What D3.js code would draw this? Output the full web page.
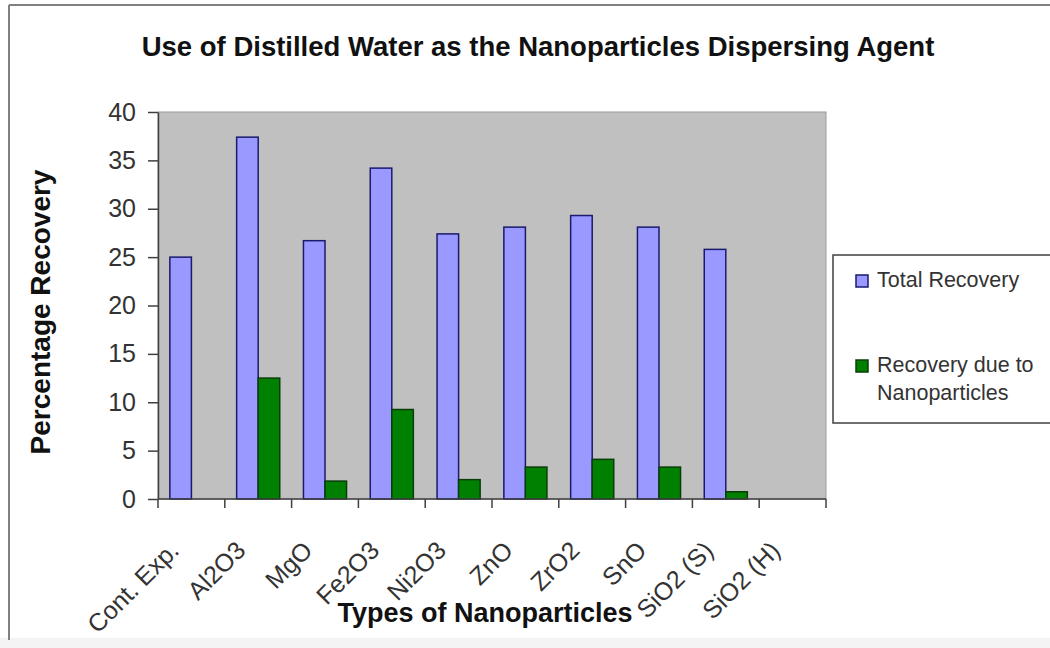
<!DOCTYPE html>
<html>
<head>
<meta charset="utf-8">
<script src="https://cdn.jsdelivr.net/npm/d3@7"></script>
<style>
  body { margin: 0; background: #fff; }
  svg text { font-family: Arial, "Liberation Sans", sans-serif; }
</style>
</head>
<body>
<div id="chart"></div>
<script>
    const categories = ["Cont. Exp.", "Al2O3", "MgO", "Fe2O3", "Ni2O3", "ZnO", "ZrO2", "SnO", "SiO2 (S)", "SiO2 (H)"];
    const totalRecovery = [25, 37.4, 26.7, 34.2, 27.4, 28.1, 29.3, 28.1, 25.8, null];
    const nanoRecovery = [null, 12.5, 1.85, 9.25, 2.0, 3.3, 4.1, 3.3, 0.75, null];
    const seriesNames = ["Total Recovery", "Recovery due to Nanoparticles"];
    const yTicks = [0, 5, 10, 15, 20, 25, 30, 35, 40];

    const width = 1050;
    const height = 648;
    const margin = { left: 158, right: 224, top: 112, bottom: 149 };
    const colors = ["#9999ff", "#008000"];
    const strokes = ["#1a1a6e", "#0b3d0b"];

    const svg = d3.select("#chart").append("svg")
        .attr("width", width)
        .attr("height", height);

    // outer chart frame
    svg.append("rect").attr("x", 0).attr("y", 638).attr("width", width).attr("height", 10).attr("fill", "#f4f4f4");
    svg.append("line").attr("x1", 9).attr("x2", 9).attr("y1", 5).attr("y2", 640)
        .attr("stroke", "#808080").attr("stroke-width", 2);
    svg.append("line").attr("x1", 9).attr("x2", width).attr("y1", 5).attr("y2", 5)
        .attr("stroke", "#808080").attr("stroke-width", 2);

    const x0 = d3.scaleBand()
        .domain(categories)
        .range([margin.left, width - margin.right])
        .padding(0);

    const x1 = d3.scaleBand()
        .domain([0, 1])
        .range([0, x0.bandwidth()])
        .paddingInner(0)
        .paddingOuter(0.55);

    const y = d3.scaleLinear()
        .domain([0, 40])
        .range([height - margin.bottom, margin.top]);

    // plot area
    svg.append("rect")
        .attr("x", margin.left)
        .attr("y", margin.top)
        .attr("width", width - margin.right - margin.left)
        .attr("height", height - margin.bottom - margin.top)
        .attr("fill", "#c0c0c0")
        .attr("stroke", "#9a9a9a")
        .attr("stroke-width", 1);

    const rows = [];
    categories.forEach((c, i) => {
        [totalRecovery[i], nanoRecovery[i]].forEach((v, s) => {
            if (v != null) rows.push({ cat: c, s: s, v: v });
        });
    });

    svg.append("g")
        .selectAll("rect")
        .data(rows)
        .join("rect")
        .attr("x", d => x0(d.cat) + x1(d.s))
        .attr("y", d => y(d.v))
        .attr("width", x1.bandwidth())
        .attr("height", d => y(0) - y(d.v))
        .attr("fill", d => colors[d.s])
        .attr("stroke", d => strokes[d.s])
        .attr("stroke-width", 1.5);

    // y axis
    const yAxis = svg.append("g")
        .attr("transform", `translate(${margin.left},0)`)
        .call(d3.axisLeft(y).tickValues(yTicks).tickSize(10).tickPadding(12).tickSizeOuter(0));
    yAxis.select(".domain").attr("stroke", "#404040").attr("stroke-width", 1.5);
    yAxis.selectAll(".tick line").attr("stroke", "#404040").attr("stroke-width", 1.5);
    yAxis.selectAll(".tick text")
        .attr("font-size", 25)
        .attr("fill", "#333");

    // x axis: ticks at category boundaries
    const xAxis = svg.append("g")
        .attr("transform", `translate(0,${height - margin.bottom})`);
    xAxis.append("line")
        .attr("x1", margin.left).attr("x2", width - margin.right)
        .attr("stroke", "#404040").attr("stroke-width", 1.5);
    const bounds = categories.map(c => x0(c)).concat([x0.range()[1]]);
    xAxis.selectAll("line.tk")
        .data(bounds)
        .join("line")
        .attr("class", "tk")
        .attr("x1", d => d).attr("x2", d => d)
        .attr("y1", 0).attr("y2", 9)
        .attr("stroke", "#404040").attr("stroke-width", 1.5);
    xAxis.selectAll("text")
        .data(categories)
        .join("text")
        .attr("transform", d => `translate(${x0(d) + x0.bandwidth() / 2 - 11},53) rotate(-45)`)
        .attr("text-anchor", "end")
        .attr("font-size", 25)
        .attr("fill", "#333")
        .text(d => d);

    // titles
    svg.append("text")
        .attr("x", 538)
        .attr("y", 56)
        .attr("text-anchor", "middle")
        .attr("font-size", 27.5)
        .attr("font-weight", "bold")
        .attr("fill", "#111")
        .text("Use of Distilled Water as the Nanoparticles Dispersing Agent");

    svg.append("text")
        .attr("x", 485)
        .attr("y", 622)
        .attr("text-anchor", "middle")
        .attr("font-size", 27)
        .attr("font-weight", "bold")
        .attr("fill", "#111")
        .text("Types of Nanoparticles");

    svg.append("text")
        .attr("transform", "translate(50,312) rotate(-90)")
        .attr("text-anchor", "middle")
        .attr("font-size", 28)
        .attr("font-weight", "bold")
        .attr("fill", "#111")
        .text("Percentage Recovery");

    // legend
    const legend = svg.append("g");
    legend.append("rect")
        .attr("x", 833).attr("y", 255)
        .attr("width", 240).attr("height", 168)
        .attr("fill", "#fff")
        .attr("stroke", "#404040")
        .attr("stroke-width", 1.5);
    const legendRows = [
        { s: 0, y: 287, lines: ["Total Recovery"] },
        { s: 1, y: 372, lines: ["Recovery due to", "Nanoparticles"] }
    ];
    legendRows.forEach(r => {
        legend.append("rect")
            .attr("x", 856).attr("y", r.y - 12)
            .attr("width", 12).attr("height", 12)
            .attr("fill", colors[r.s])
            .attr("stroke", strokes[r.s])
            .attr("stroke-width", 1.5);
        legend.append("text")
            .attr("x", 877).attr("y", r.y)
            .attr("font-size", 21.5)
            .attr("fill", "#333")
            .selectAll("tspan")
            .data(r.lines)
            .join("tspan")
            .attr("x", 877)
            .attr("dy", (d, i) => i === 0 ? 0 : 28)
            .text(d => d);
    });
</script>
</body>
</html>
